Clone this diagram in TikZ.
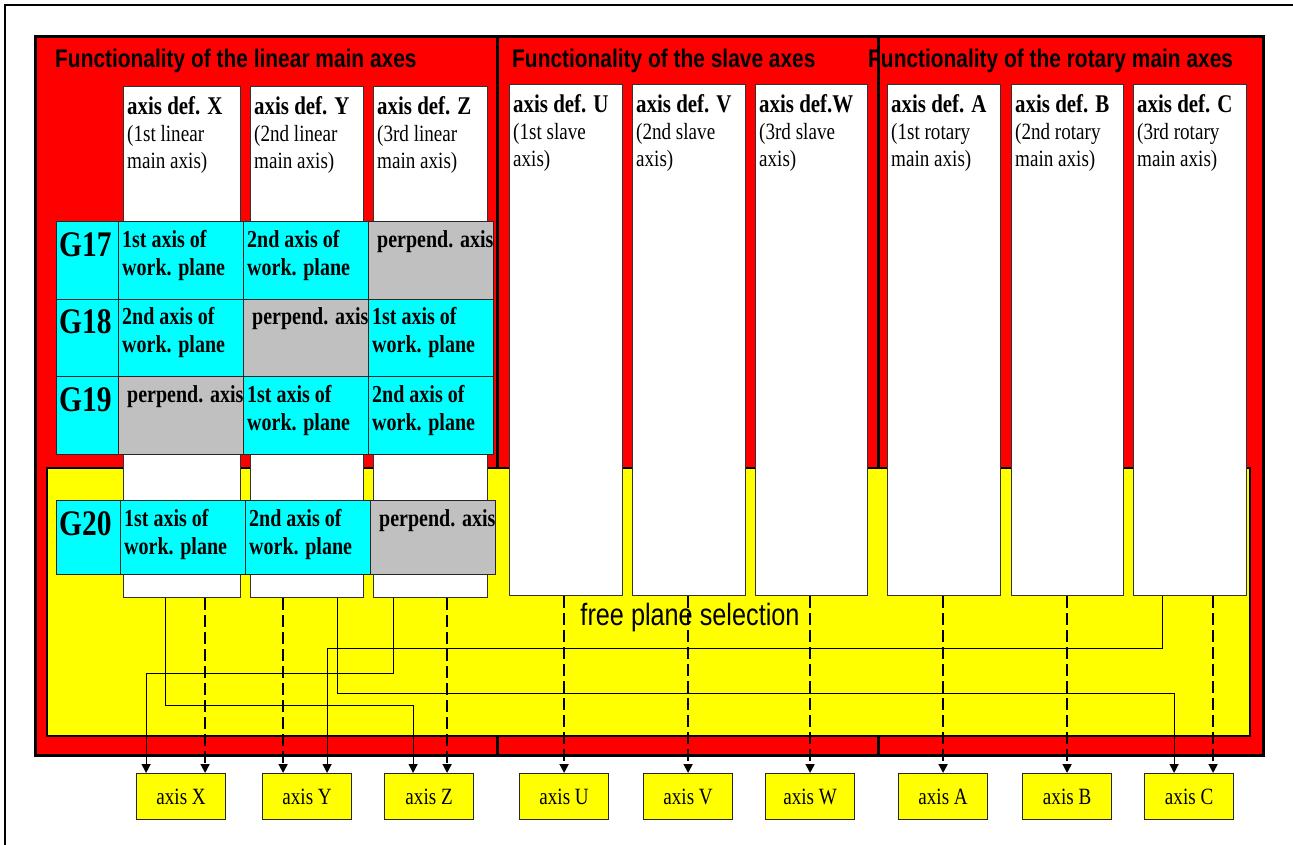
\documentclass[tikz,border=0pt]{standalone}
\usepackage{fontspec}
\setmainfont{Liberation Serif}[FakeStretch=0.82]
\newfontfamily\arialfont{Liberation Sans}[FakeStretch=0.82]
\definecolor{axred}{HTML}{FF0000}
\definecolor{axcyan}{HTML}{00FFFF}
\definecolor{axgray}{HTML}{C0C0C0}
\definecolor{axyellow}{HTML}{FFFF00}
\usepackage{tikz}
\usetikzlibrary{arrows.meta}

\begin{document}
\begin{tikzpicture}[x=1pt,y=-1pt,
  redbox/.style={draw=black,fill=axred,line width=3pt},
  grouptitle/.style={anchor=base west,inner sep=0pt,font=\arialfont\bfseries\fontsize{25.5}{25.5}\selectfont},
  defcol/.style={draw=black!80,fill=white,line width=1.2pt,anchor=north west,inner sep=0pt,minimum height=511pt},
  deftext/.style={anchor=north west,inner sep=0pt,xshift=4pt,yshift=-10pt,align=left,font=\fontsize{23.3}{27}\selectfont},
  gcell/.style={draw=black!85,line width=1.2pt,anchor=north west,inner sep=0pt,minimum width=125pt,minimum height=77.5pt},
  glabel/.style={anchor=north west,inner sep=0pt,xshift=3pt,yshift=-11pt,font=\fontsize{36}{36}\selectfont\bfseries},
  celltext/.style={anchor=north west,inner sep=0pt,xshift=4pt,yshift=-9pt,align=left,font=\fontsize{24.4}{28}\selectfont\bfseries},
  axbox/.style={draw=black!85,fill=axyellow,line width=1.2pt,anchor=north west,inner sep=0pt,minimum width=89pt,minimum height=46pt,font=\fontsize{23.3}{23.3}\selectfont},
  wire/.style={line width=1.2pt,-{Triangle[length=9pt,width=9pt]}},
  dline/.style={line width=1.8pt,dash pattern=on 12pt off 5pt,-{Triangle[length=9pt,width=9pt]}}]
  \useasboundingbox (0,0) rectangle (1293,845);
  \draw[line width=2pt] (5,860) |- (1310,5);
  % the three groups of axes
  \draw[redbox] (35,37) rectangle (497,755);
  \draw[redbox] (497,37) rectangle (878,755);
  \draw[redbox] (878,37) rectangle (1263,755);
  \node[grouptitle] (tlin) at (55,68) {Functionality of the linear main axes};
  \node[grouptitle] (tslv) at (512,68) {Functionality of the slave axes};
  \node[grouptitle] (trot) at (868,68) {Functionality of the rotary main axes};
  % free plane selection
  \draw[fill=axyellow,line width=2.5pt] (47,468) rectangle (1250,736);
  \node[anchor=base,inner sep=0pt,font=\arialfont\fontsize{30.8}{30.8}\selectfont] (free) at (690,625) {free plane selection};
  % axis definitions
  \node[defcol,minimum width=117pt,label={[deftext]north west:{{\fontsize{25.5}{27}\selectfont\bfseries axis def. X}\\(1st linear\\main axis)}}] (defX) at (123,86) {};
  \node[defcol,minimum width=113pt,label={[deftext]north west:{{\fontsize{25.5}{27}\selectfont\bfseries axis def. Y}\\(2nd linear\\main axis)}}] (defY) at (250,86) {};
  \node[defcol,minimum width=114pt,label={[deftext]north west:{{\fontsize{25.5}{27}\selectfont\bfseries axis def. Z}\\(3rd linear\\main axis)}}] (defZ) at (373,86) {};
  \node[defcol,minimum width=113pt,label={[deftext]north west:{{\fontsize{25.5}{27}\selectfont\bfseries axis def. U}\\(1st slave\\axis)}}] (defU) at (509,84) {};
  \node[defcol,minimum width=113pt,label={[deftext]north west:{{\fontsize{25.5}{27}\selectfont\bfseries axis def. V}\\(2nd slave\\axis)}}] (defV) at (632,84) {};
  \node[defcol,minimum width=112pt,label={[deftext]north west:{{\fontsize{25.5}{27}\selectfont\bfseries axis def.W}\\(3rd slave\\axis)}}] (defW) at (755,84) {};
  \node[defcol,minimum width=113pt,label={[deftext]north west:{{\fontsize{25.5}{27}\selectfont\bfseries axis def. A}\\(1st rotary\\main axis)}}] (defA) at (887,84) {};
  \node[defcol,minimum width=112pt,label={[deftext]north west:{{\fontsize{25.5}{27}\selectfont\bfseries axis def. B}\\(2nd rotary\\main axis)}}] (defB) at (1011,84) {};
  \node[defcol,minimum width=113pt,label={[deftext]north west:{{\fontsize{25.5}{27}\selectfont\bfseries axis def. C}\\(3rd rotary\\main axis)}}] (defC) at (1133,84) {};
  % plane table G17 - G19
  \node[gcell,fill=axcyan,minimum width=62pt,label={[glabel]north west:G17}] (g17) at (56,221) {};
  \node[gcell,fill=axcyan,label={[celltext]north west:{1st axis of\\work. plane}}] (g17x) at (118,221) {};
  \node[gcell,fill=axcyan,label={[celltext]north west:{2nd axis of\\work. plane}}] (g17y) at (243,221) {};
  \node[gcell,fill=axgray,label={[celltext,xshift=5pt]north west:perpend. axis}] (g17z) at (368,221) {};
  \node[gcell,fill=axcyan,minimum width=62pt,label={[glabel]north west:G18}] (g18) at (56,298.5) {};
  \node[gcell,fill=axcyan,label={[celltext]north west:{2nd axis of\\work. plane}}] (g18x) at (118,298.5) {};
  \node[gcell,fill=axgray,label={[celltext,xshift=5pt]north west:perpend. axis}] (g18y) at (243,298.5) {};
  \node[gcell,fill=axcyan,label={[celltext]north west:{1st axis of\\work. plane}}] (g18z) at (368,298.5) {};
  \node[gcell,fill=axcyan,minimum width=62pt,label={[glabel]north west:G19}] (g19) at (56,376) {};
  \node[gcell,fill=axgray,label={[celltext,xshift=5pt]north west:perpend. axis}] (g19x) at (118,376) {};
  \node[gcell,fill=axcyan,label={[celltext]north west:{1st axis of\\work. plane}}] (g19y) at (243,376) {};
  \node[gcell,fill=axcyan,label={[celltext]north west:{2nd axis of\\work. plane}}] (g19z) at (368,376) {};
  % G20
  \node[gcell,fill=axcyan,minimum width=64pt,minimum height=74pt,label={[glabel]north west:G20}] (g20) at (56,500) {};
  \node[gcell,fill=axcyan,minimum height=74pt,label={[celltext]north west:{1st axis of\\work. plane}}] (g20x) at (120,500) {};
  \node[gcell,fill=axcyan,minimum height=74pt,label={[celltext]north west:{2nd axis of\\work. plane}}] (g20y) at (245,500) {};
  \node[gcell,fill=axgray,minimum height=74pt,label={[celltext,xshift=5pt]north west:perpend. axis}] (g20z) at (370,500) {};
  % machine axes
  \node[axbox] (axX) at (136,773) {axis X};
  \node[axbox] (axY) at (262,773) {axis Y};
  \node[axbox] (axZ) at (384,773) {axis Z};
  \node[axbox] (axU) at (519,773) {axis U};
  \node[axbox] (axV) at (643,773) {axis V};
  \node[axbox] (axW) at (765,773) {axis W};
  \node[axbox] (axA) at (898,773) {axis A};
  \node[axbox] (axB) at (1022,773) {axis B};
  \node[axbox] (axC) at (1144,773) {axis C};
  % direct assignment
  \draw[dline] ([xshift=24pt]defX.south -| axX.north) -- ([xshift=24pt]axX.north);
  \draw[dline] ([xshift=-24pt]defY.south -| axY.north) -- ([xshift=-24pt]axY.north);
  \draw[dline] ([xshift=18pt]defZ.south -| axZ.north) -- ([xshift=18pt]axZ.north);
  \draw[dline] (defU.south -| axU.north) -- (axU.north);
  \draw[dline] (defV.south -| axV.north) -- (axV.north);
  \draw[dline] (defW.south -| axW.north) -- (axW.north);
  \draw[dline] (defA.south -| axA.north) -- (axA.north);
  \draw[dline] (defB.south -| axB.north) -- (axB.north);
  \draw[dline] ([xshift=24pt]defC.south -| axC.north) -- ([xshift=24pt]axC.north);
  % free assignment
  \draw[wire] ([xshift=-17pt]defX.south) -- ++(0,107) -| ([xshift=-16pt]axZ.north);
  \draw[wire] ([xshift=30pt]defY.south) -- ++(0,95) -| ([xshift=-15pt]axC.north);
  \draw[wire] ([xshift=-37pt]defZ.south) -- ++(0,75) -| ([xshift=-35pt]axX.north);
  \draw[wire] ([xshift=-28pt]defC.south) -- ++(0,52) -| ([xshift=20pt]axY.north);
\end{tikzpicture}
\end{document}
